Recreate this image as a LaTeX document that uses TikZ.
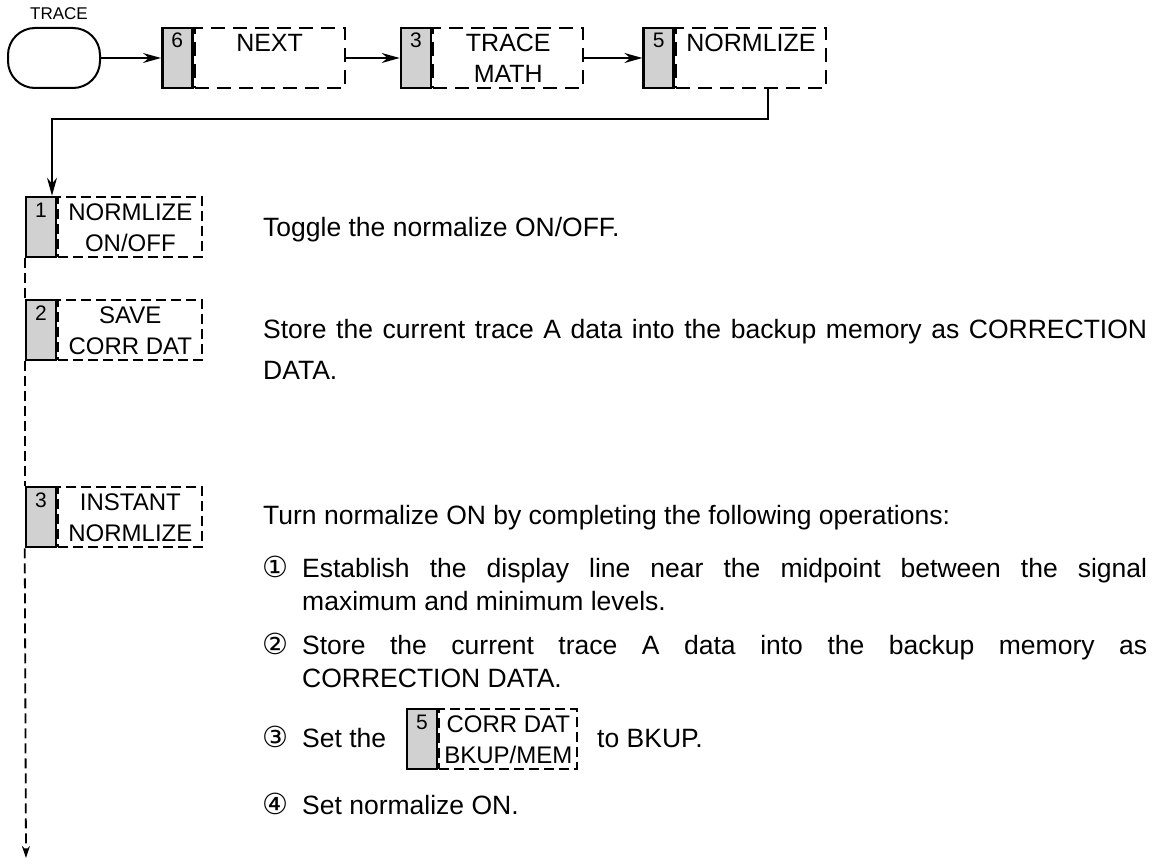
\documentclass[tikz,border=0pt]{standalone}
\usepackage{fontspec}
\setmainfont{Liberation Sans}
\newfontfamily\circfont{DejaVu Sans}
\usetikzlibrary{arrows.meta, positioning}
\newcommand{\ks}{\rule[-5.5pt]{0pt}{29pt}}

\begin{document}
\begin{tikzpicture}[
    x=1pt, y=-1pt,
    keynum/.style={draw, line width=2.5pt, fill=black!18, minimum width=30pt,
                   minimum height=60pt, inner sep=0pt, text height=20pt,
                   text depth=40pt, font=\fontsize{21}{24}\selectfont},
    keybox/.style={draw, line width=2.2pt, dash pattern=on 14pt off 8pt,
                   minimum width=150pt, minimum height=60pt, inner sep=0pt,
                   align=center, font=\fontsize{25}{31}\selectfont},
    sidebox/.style={keybox, dash pattern=on 10pt off 5pt, minimum width=144pt,
                    font=\fontsize{24}{31}\selectfont},
    flow/.style={line width=1.6pt, -{Stealth[length=18pt, width=10pt]}},
    vdash/.style={line width=1.8pt, dash pattern=on 10pt off 5pt},
    body/.style={anchor=base west, inner sep=0pt, text width=#1, align=justify,
                 font=\fontsize{26.5}{41}\selectfont},
    itemtext/.style={body=#1, font=\fontsize{26.5}{33}\selectfont},
    say/.style={anchor=base west, inner sep=0pt, font=\fontsize{26.5}{33}\selectfont},
    circnum/.style={anchor=base west, inner sep=0pt, font=\circfont\fontsize{29}{33}\selectfont}
]
    \useasboundingbox (0,0) rectangle (1166,864);

    % top row of keys
    \node[draw, line width=2pt, rounded corners=27pt, minimum width=92pt,
          minimum height=60pt] (trace) at (54,58) {};
    \node[inner sep=0pt, font=\fontsize{17}{20}\selectfont, above=7pt of trace,
          xshift=5pt] (tracelbl) {TRACE};
    \node[keynum, right=60pt of trace] (knext) {6};
    \node[keybox, right=0pt of knext] (dnext) {\ks NEXT\\\ks};
    \node[keynum, right=54pt of dnext] (kmath) {3};
    \node[keybox, right=0pt of kmath] (dmath) {\ks TRACE\\\ks MATH};
    \node[keynum, right=58pt of dmath] (knorm) {5};
    \node[keybox, right=0pt of knorm] (dnorm) {\ks NORMLIZE\\\ks};

    \draw[flow] (trace) -- (knext);
    \draw[flow] (dnext) -- (kmath);
    \draw[flow] (dmath) -- (knorm);

    % soft keys down the left side
    \node[keynum] (kon) at (41,227) {1};
    \node[sidebox, right=0pt of kon] (don) {\ks NORMLIZE\\\ks ON/OFF};
    \node[keynum] (ksave) at (41,330) {2};
    \node[sidebox, right=0pt of ksave] (dsave) {\ks SAVE\\\ks CORR DAT};
    \node[keynum] (kinst) at (41,517) {3};
    \node[sidebox, right=0pt of kinst] (dinst) {\ks INSTANT\\\ks NORMLIZE};

    \draw[flow] ([xshift=17pt]dnorm.south) -- ++(0,30) -| ([xshift=11pt]kon.north);
    \coordinate (flowend) at (26,858);
    \draw[vdash] (kon.south west) -- (ksave.north west);
    \draw[vdash] (ksave.south west) -- (kinst.north west);
    \draw[vdash, -{Stealth[length=12pt, width=8pt]}] (kinst.south west) -- (flowend);

    % descriptions
    \node[body=884pt] (tog) at (263,236) {Toggle the normalize ON/OFF.};
    \node[body=884pt] (store) at (263,338) {Store the current trace A data into the backup memory as CORRECTION\linebreak DATA.};
    \node[body=884pt] (turn) at (263,524) {Turn normalize ON by completing the following operations:};

    \node[circnum] (c1) at (262,577) {①};
    \node[itemtext=845pt] (est) at (302,577) {Establish the display line near the midpoint between the signal\linebreak maximum and minimum levels.};
    \node[circnum] (c2) at (262,654) {②};
    \node[itemtext=845pt] (cur) at (302,654) {Store the current trace A data into the backup memory as\linebreak CORRECTION DATA.};
    \node[circnum] (c3) at (262,747) {③};
    \node[say] (setthe) at (302,747) {Set the};
    \node[keynum] (kcorr) at (422,739) {5};
    \node[sidebox, minimum width=138pt, right=0pt of kcorr] (dcorr) {\ks CORR DAT\\\ks BKUP/MEM};
    \node[say] (tobkup) at (597,747) {to BKUP.};
    \node[circnum] (c4) at (262,814) {④};
    \node[say] (seton) at (302,814) {Set normalize ON.};
\end{tikzpicture}
\end{document}
